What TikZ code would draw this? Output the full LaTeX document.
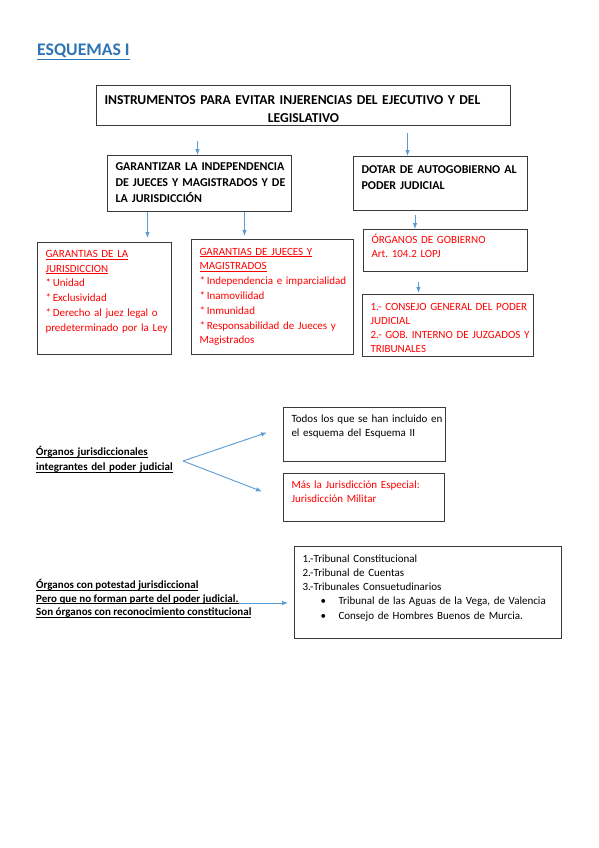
\documentclass[tikz,border=0pt]{standalone}
\usepackage{fontspec}
\setmainfont{Carlito}
\usepackage{tikz}
\usetikzlibrary{arrows.meta,positioning,calc}
\definecolor{titleblue}{HTML}{2E74B5}
\definecolor{arrblue}{HTML}{5B9BD5}
\definecolor{boxgray}{HTML}{3A3A3A}
\newcommand{\ulin}[1]{\underline{\smash{#1}}}
% keep every typed line on one line
\newcommand{\nobrk}{\rightskip=0pt plus 1fil minus 30pt\relax}
\frenchspacing
\tikzset{
  box/.style={draw=boxgray, line width=1pt, anchor=north west, inner xsep=8pt, inner ysep=0pt, align=left,
    font=\fontsize{11}{14.8}\selectfont},
  boldbox/.style={box, font=\bfseries\fontsize{12}{16}\selectfont},
  arr/.style={draw=arrblue, line width=0.9pt, -{Latex[length=6pt,width=4.5pt]}},
  lbl/.style={anchor=base west, inner sep=0pt, font=\bfseries\fontsize{11}{13.4}\selectfont},
}
\begin{document}
\begin{tikzpicture}[x=1pt, y=-1pt]
    \useasboundingbox[fill=white] (0,0) rectangle (599,848);
    \node[anchor=base west, inner sep=0pt, text=titleblue, font=\bfseries\fontsize{17.7}{20}\selectfont] (ttl) at (37,56) {\underline{ESQUEMAS I}};

    % Top of the scheme
    \node[boldbox, align=center, text width=398pt, text height=19pt, text depth=21.5pt,
      font=\bfseries\fontsize{13.6}{17.7}\selectfont] (instr) at (96,85)
      {\nobrk INSTRUMENTOS PARA EVITAR INJERENCIAS DEL EJECUTIVO Y DEL\\LEGISLATIVO};
    \node[boldbox, text width=168pt, text height=14.5pt, text depth=41pt] (gar) at (107,155)
      {\nobrk GARANTIZAR LA INDEPENDENCIA\\\nobrk DE JUECES Y MAGISTRADOS Y DE\\LA JURISDICCIÓN};
    \node[boldbox, text width=158pt, text height=16.5pt, text depth=37.5pt] (dot) at (353,156)
      {\nobrk DOTAR DE AUTOGOBIERNO AL\\PODER JUDICIAL};

    % Guarantees
    \node[box, text=red, text width=118pt, text height=14.8pt, text depth=97.2pt] (gjur) at (37,242)
      {\nobrk\ulin{GARANTIAS DE LA}\\\ulin{JURISDICCION}\\{}*\,Unidad\\{}*\,Exclusividad\\\mbox{*\,Derecho al juez legal o}\\\mbox{predeterminado por la Ley}};
    \node[box, text=red, text width=146pt, text height=15.5pt, text depth=99.5pt] (gjue) at (191,239)
      {\nobrk\ulin{GARANTIAS DE JUECES Y}\\\ulin{MAGISTRADOS}\\\mbox{*\,Independencia e imparcialidad}\\{}*\,Inamovilidad\\{}*\,Inmunidad\\\mbox{*\,Responsabilidad de Jueces y}\\Magistrados};
    \node[box, text=red, text width=148pt, text height=13.5pt, text depth=28.5pt] (org) at (363,229)
      {\nobrk ÓRGANOS DE GOBIERNO\\Art. 104.2 LOPJ};
    \node[box, text=red, text width=155pt, text height=15.5pt, text depth=46.5pt,
      font=\fontsize{11}{14.3}\selectfont] (cons) at (362,294)
      {\mbox{1.- CONSEJO GENERAL DEL PODER}\\JUDICIAL\\\mbox{2.- GOB. INTERNO DE JUZGADOS Y}\\TRIBUNALES};

    \coordinate (garin) at ([xshift=-2pt]gar.north);
    \coordinate (dotin) at ([xshift=-33pt]dot.north);
    \coordinate (garl) at ([xshift=-52pt]gar.south);
    \coordinate (garr) at ([xshift=45pt]gar.south);
    \coordinate (dotout) at ([xshift=-25.5pt]dot.south);
    \coordinate (orgout) at ([xshift=-27pt]org.south);
    \draw[arr, shorten <=14pt] (instr.south -| garin) -- (garin);
    \draw[arr, shorten <=6.5pt] (instr.south -| dotin) -- (dotin);
    \draw[arr, shorten >=4pt] (garl) -- (garl |- gjur.north);
    \draw[arr, shorten >=3pt] (garr) -- (garr |- gjue.north);
    \draw[arr, shorten <=4pt] (dotout) -- (dotout |- org.north);
    \draw[arr, shorten <=10pt, shorten >=1pt] (orgout) -- (orgout |- cons.north);

    % Jurisdictional organs
    \node[lbl, anchor=north west, align=left, text width=150pt, text height=10.5pt,
      font=\bfseries\fontsize{11}{15}\selectfont] (ojur) at (36,445)
      {\nobrk\ulin{Órganos jurisdiccionales}\\\ulin{integrantes del poder judicial}};
    \node[box, text width=146pt, text height=14.5pt, text depth=39.5pt] (todos) at (283,407)
      {\mbox{Todos los que se han incluido en}\\el esquema del Esquema II};
    \node[box, text=red, text width=145pt, text height=14.5pt, text depth=33.5pt] (mas) at (283,473)
      {\nobrk Más la Jurisdicción Especial:\\Jurisdicción Militar};
    \coordinate (vtx) at (183,461);
    \draw[arr] (vtx) -- ([xshift=-16pt,yshift=2pt]todos.west);
    \draw[arr] (vtx) -- ([xshift=-21pt,yshift=6pt]mas.west);

    % Organs outside the judicial power
    \node[lbl] (opota) at (36,588.5) {\ulin{Órganos con potestad jurisdiccional}};
    \node[lbl] (opotb) at (36,602) {\ulin{Pero que no forman parte del poder judicial.}};
    \node[lbl] (opotc) at (36,615.5) {\ulin{Son órganos con reconocimiento constitucional}};
    \node[box, text width=251pt, text height=15.5pt, text depth=76.5pt,
      font=\fontsize{11}{14.3}\selectfont] (trib) at (294,546)
      {1.-Tribunal Constitucional\\2.-Tribunal de Cuentas\\3.-Tribunales Consuetudinarios\\
       \mbox{\hspace*{18pt}\makebox[18pt][l]{\textbullet}Tribunal de las Aguas de la Vega, de Valencia}\\
       \mbox{\hspace*{18pt}\makebox[18pt][l]{\textbullet}Consejo de Hombres Buenos de Murcia.}};
    \coordinate (opotend) at ([yshift=-1pt]opotb.base east);
    \draw[arr, shorten >=6pt] (opotend) -- (opotend -| trib.west);
\end{tikzpicture}
\end{document}
